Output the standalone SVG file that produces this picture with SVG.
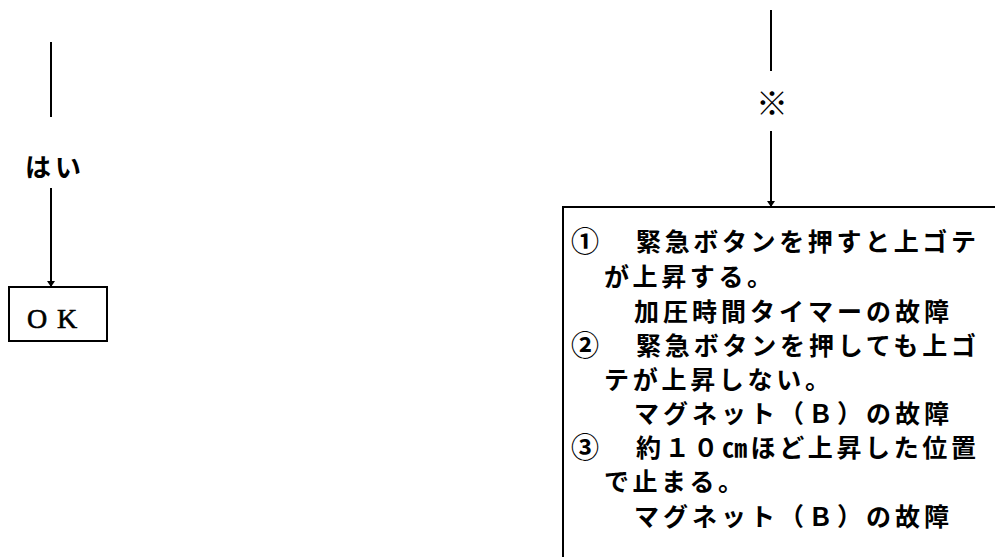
<svg xmlns="http://www.w3.org/2000/svg" width="995" height="557" viewBox="0 0 995 557">
<style>
.bg{fill:#fff}
.ln{stroke:#000;stroke-width:2;fill:none}
.box{stroke:#000;stroke-width:2;fill:#fff}
.jp{font-family:"Noto Sans CJK JP","Noto Sans",sans-serif;font-weight:700;fill:#000}
.body{font-size:25px}
.num{font-size:28px}
.lbl{font-size:26px}
.ok{font-family:"Liberation Serif",serif;font-size:28px;fill:#000;stroke:#000;stroke-width:0.6}
</style>
<defs>
<marker id="arr" viewBox="0 0 6 8" refX="6" refY="4" markerWidth="6" markerHeight="8" markerUnits="userSpaceOnUse" orient="auto">
<path d="M0,0 L6,4 L0,8 z" fill="#000"/>
</marker>
</defs>
<rect class="bg" x="0" y="0" width="995" height="557"/>
<g id="connectors">
<line class="ln" x1="51" y1="42" x2="51" y2="117"/>
<line class="ln" x1="51" y1="188" x2="51" y2="287" marker-end="url(#arr)"/>
<line class="ln" x1="771" y1="10" x2="771" y2="71"/>
<line class="ln" x1="771" y1="131" x2="771" y2="207" marker-end="url(#arr)"/>
<text class="jp lbl" x="25" y="177" textLength="56" lengthAdjust="spacing">はい</text>
<text class="jp" x="772" y="115" font-size="32" text-anchor="middle">※</text>
</g>
<g id="node-ok">
<rect class="box" x="9" y="287" width="98" height="54"/>
<text class="ok" x="27 57" y="328">OK</text>
</g>
<g id="node-causes">
<path class="ln" d="M996,207 H563 V558"/>
<text class="jp num" x="571" y="252">①</text>
<text class="jp body" x="636" y="251" textLength="340" lengthAdjust="spacing">緊急ボタンを押すと上ゴテ</text>
<text class="jp body" x="604" y="286" textLength="168" lengthAdjust="spacing">が上昇する。</text>
<text class="jp body" x="634" y="321" textLength="315" lengthAdjust="spacing">加圧時間タイマーの故障</text>
<text class="jp num" x="571" y="356">②</text>
<text class="jp body" x="636" y="355" textLength="340" lengthAdjust="spacing">緊急ボタンを押しても上ゴ</text>
<text class="jp body" x="604" y="389" textLength="226" lengthAdjust="spacing">テが上昇しない。</text>
<text class="jp body" x="634" y="423" textLength="315" lengthAdjust="spacing">マグネット（Ｂ）の故障</text>
<text class="jp num" x="571" y="458">③</text>
<text class="jp body" x="636" y="457" textLength="340" lengthAdjust="spacing">約１０㎝ほど上昇した位置</text>
<text class="jp body" x="604" y="491" textLength="139" lengthAdjust="spacing">で止まる。</text>
<text class="jp body" x="634" y="526" textLength="315" lengthAdjust="spacing">マグネット（Ｂ）の故障</text>
</g>
</svg>
